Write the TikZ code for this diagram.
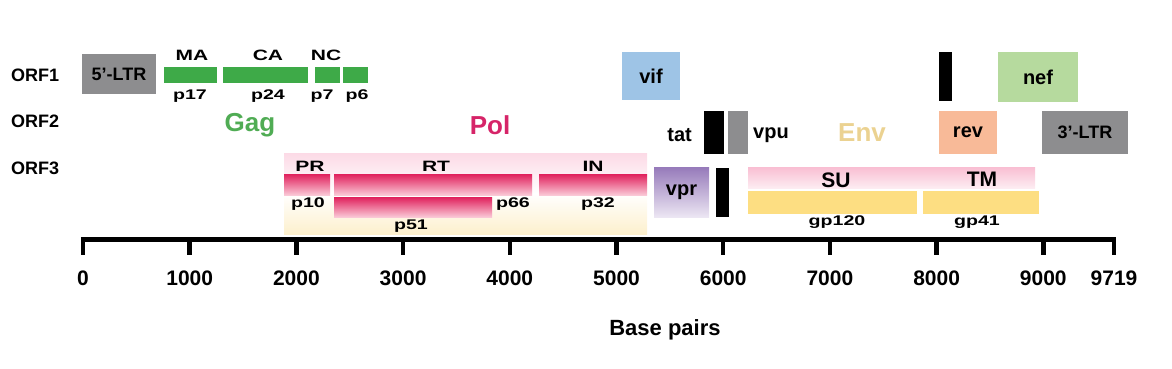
\documentclass[tikz,border=0pt]{standalone}
\usepackage{fontspec}
\setmainfont{Liberation Sans}
\newfontfamily\widefont[FakeStretch=1.4]{Liberation Sans}
\newcommand{\fsz}[1]{\fontsize{#1}{#1}\selectfont}

\definecolor{ltrgrey}{RGB}{141,141,143}
\definecolor{gaggreen}{RGB}{62,170,72}
\definecolor{gagtext}{RGB}{80,172,84}
\definecolor{poltext}{RGB}{214,36,104}
\definecolor{envtext}{RGB}{235,210,145}
\definecolor{vifblue}{RGB}{158,196,230}
\definecolor{nefgreen}{RGB}{182,218,158}
\definecolor{revsalmon}{RGB}{248,186,152}
\definecolor{envgold}{RGB}{253,222,130}
\definecolor{envpinkhi}{RGB}{249,190,210}
\definecolor{envpinklo}{RGB}{253,236,242}
\definecolor{vprhi}{RGB}{150,122,186}
\definecolor{vprlo}{RGB}{236,230,243}
\definecolor{polhi}{RGB}{224,32,92}
\definecolor{pollo}{RGB}{250,200,214}
\definecolor{polbgtop}{RGB}{252,218,230}
\definecolor{polbgbot}{RGB}{253,240,205}

\begin{document}
\begin{tikzpicture}[x=1pt, y=-1pt,
    every node/.style={inner sep=0pt, font=\bfseries},
    box/.style 2 args={minimum width=#1, minimum height=#2},
    orf/.style={anchor=west, font=\bfseries\fsz{18}},
    gene/.style={font=\bfseries\fsz{20}},
    prot/.style={font=\widefont\bfseries\fsz{14}},
    dom/.style={font=\widefont\bfseries\fsz{15}},
    polyprot/.style={font=\bfseries\fsz{26}},
    polbar/.style={top color=polhi, bottom color=pollo}]

    \useasboundingbox (0,0) rectangle (1172,368);

    \node[orf] (orf1) at (11,75) {ORF1};
    \node[orf] (orf2) at (11,121) {ORF2};
    \node[orf] (orf3) at (11,168) {ORF3};

    % LTRs
    \node[box={74}{40}, fill=ltrgrey, font=\bfseries\fsz{18}] (ltr5) at (119,74) {5’-LTR};
    \node[box={86}{43}, fill=ltrgrey, font=\bfseries\fsz{18}] (ltr3) at (1085,132.5) {3’-LTR};

    % Gag
    \node[box={53}{16}, fill=gaggreen] (ma) at (190.5,75) {};
    \node[box={85}{16}, fill=gaggreen] (ca) at (265.5,75) {};
    \node[box={25}{16}, fill=gaggreen] (nca) at (327.5,75) {};
    \node[box={25}{16}, fill=gaggreen] (ncb) at (355.5,75) {};
    \node[dom] (malab) at (192,55) {MA};
    \node[dom] (calab) at (268,55) {CA};
    \node[dom] (nclab) at (326,55) {NC};
    \node[prot] (p17) at (190,96) {p17};
    \node[prot] (p24) at (268,96) {p24};
    \node[prot] (p7) at (322,96) {p7};
    \node[prot] (p6) at (357,96) {p6};
    \node[polyprot, text=gagtext] (gag) at (250,125) {Gag};

    % Pol
    \node[box={363}{81}, top color=polbgtop, bottom color=polbgbot, middle color=white] (polbg) at (465.5,193.5) {};
    \node[box={46}{21}, polbar] (pr) at (307,184.5) {};
    \node[box={198}{21}, polbar] (rt) at (433,184.5) {};
    \node[box={108}{21}, polbar] (in) at (593,184.5) {};
    \node[box={158}{20}, polbar] (rtb) at (413,207) {};
    \node[dom] (prlab) at (310,166) {PR};
    \node[dom] (rtlab) at (436,166) {RT};
    \node[dom] (inlab) at (593,166) {IN};
    \node[prot] (p10) at (308,204) {p10};
    \node[prot] (p66) at (513,204) {p66};
    \node[prot] (p32) at (598,204) {p32};
    \node[prot] (p51) at (411,226) {p51};
    \node[polyprot, text=poltext] (pol) at (490,125) {Pol};

    % accessory and regulatory genes
    \node[gene, box={58}{48}, fill=vifblue] (vif) at (651,76) {vif};
    \node[gene, box={55}{50}, top color=vprhi, bottom color=vprlo] (vpr) at (681.5,192) {vpr};
    \node[box={20}{43}, fill=black] (tata) at (714,132.5) {};
    \node[box={13}{49}, fill=black] (tatb) at (722.5,192.5) {};
    \node[gene, anchor=east] (tat) at (692,135) {tat};
    \node[box={20}{43}, fill=ltrgrey] (vpubar) at (738,132.5) {};
    \node[gene, anchor=west] (vpu) at (753,135) {vpu};
    \node[box={13}{49}, fill=black] (reva) at (945.5,76.5) {};
    \node[gene, box={58}{43}, fill=revsalmon] (rev) at (968,132.5) {rev};
    \node[gene, box={80}{50}, fill=nefgreen] (nef) at (1038,77) {nef};

    % Env
    \node[box={287}{21}, top color=envpinkhi, bottom color=envpinklo] (envband) at (891.5,177.5) {};
    \node[box={169}{23}, fill=envgold] (gp120) at (832.5,202.5) {};
    \node[box={116}{23}, fill=envgold] (gp41) at (981,202.5) {};
    \node[font=\bfseries\fsz{21}] (su) at (836,180) {SU};
    \node[font=\bfseries\fsz{21}] (tm) at (982,179) {TM};
    \node[prot] (gp120lab) at (837,222) {gp120};
    \node[prot] (gp41lab) at (977,222) {gp41};
    \node[polyprot, text=envtext] (env) at (862,133) {Env};

    % scale
    \coordinate (axl) at (80.75,239.5);
    \coordinate (axr) at (1116.25,239.5);
    \draw[line width=4.5] (axl) -- (axr);
    \foreach \k in {0,...,9} {
        \pgfmathtruncatemacro{\bp}{1000*\k}
        \draw[line width=4.5] (83+106.7*\k,237.5) -- ++(0,17.5);
        \node[font=\bfseries\fsz{21}] (tick\k) at (83+106.7*\k,278) {\bp};
    }
    \draw[line width=4.5] (1114,237.5) -- ++(0,17.5);
    \node[font=\bfseries\fsz{21}] (tickend) at (1114,278) {9719};
    \node[font=\bfseries\fsz{22}] (xlab) at (665,330) {Base pairs};

\end{tikzpicture}
\end{document}
